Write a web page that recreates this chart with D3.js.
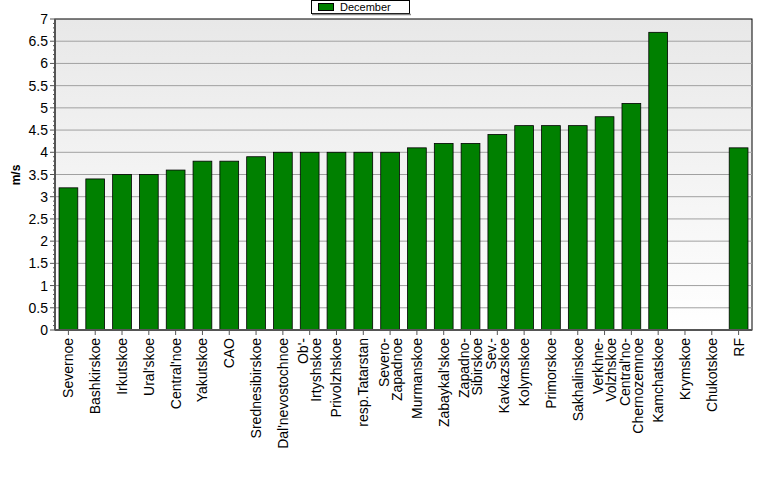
<!DOCTYPE html><html><head><meta charset="utf-8"><script src="https://cdn.jsdelivr.net/npm/d3@7"></script>
<style>body{margin:0;background:#fff}text{font-family:"Liberation Sans",Arial,sans-serif}</style></head><body><svg id="c" width="777" height="479"></svg>
<script>
const categories=[["Severnoe"],["Bashkirskoe"],["Irkutskoe"],["Ural'skoe"],["Central'noe"],["Yakutskoe"],["CAO"],["Srednesibirskoe"],["Dal'nevostochnoe"],["Ob'-","Irtyshskoe"],["Privolzhskoe"],["resp.Tatarstan"],["Severo-","Zapadnoe"],["Murmanskoe"],["Zabaykal'skoe"],["Zapadno-","Sibirskoe"],["Sev.-","Kavkazskoe"],["Kolymskoe"],["Primorskoe"],["Sakhalinskoe"],["Verkhne-","Volzhskoe"],["Central'no-","Chernozemnoe"],["Kamchatskoe"],["Krymskoe"],["Chukotskoe"],["RF"]];
const december=[3.2,3.4,3.5,3.5,3.6,3.8,3.8,3.9,4.0,4.0,4.0,4.0,4.0,4.1,4.2,4.2,4.4,4.6,4.6,4.6,4.8,5.1,6.7,null,null,4.1];
const yTicks=[0,0.5,1,1.5,2,2.5,3,3.5,4,4.5,5,5.5,6,6.5,7];
const svg=d3.select("#c");
const L=55,R=752,T=19,B=330;
const x=d3.scaleBand().domain(d3.range(categories.length)).range([L,R]).paddingInner(0.3).paddingOuter(0.15);
const y=d3.scaleLinear().domain([0,7]).range([B,T]);
const g=svg.append("defs").append("linearGradient").attr("id","bg").attr("x1",0).attr("x2",0).attr("y1",0).attr("y2",1);
g.append("stop").attr("offset","0").attr("stop-color","#e8e8e8");g.append("stop").attr("offset","1").attr("stop-color","#ffffff");
svg.append("rect").attr("x",L).attr("y",T).attr("width",R-L).attr("height",B-T).attr("fill","url(#bg)").attr("stroke","#000");
yTicks.forEach(t=>{if(t>0&&t<7)svg.append("line").attr("x1",L).attr("x2",R).attr("y1",y(t)).attr("y2",y(t)).attr("stroke","#a0a0a0");});
svg.selectAll(".bar").data(december).enter().filter(d=>d!=null).append("rect")
 .attr("x",(d,i)=>0).each(function(d){}).remove();
december.forEach((d,i)=>{if(d==null)return;svg.append("rect").attr("x",x(i)).attr("y",y(d)).attr("width",x.bandwidth()).attr("height",B-y(d)).attr("fill","#008000").attr("stroke","#000").attr("stroke-width",0.8);});
// y axis
svg.append("line").attr("x1",L).attr("x2",L).attr("y1",T).attr("y2",B).attr("stroke","#555").attr("stroke-width",2);
d3.range(0,71).forEach(k=>{svg.append("line").attr("x1",L-(k%5==0?5:2)).attr("x2",L).attr("y1",y(k/10)).attr("y2",y(k/10)).attr("stroke","#555");});
yTicks.forEach(t=>svg.append("text").attr("x",L-7).attr("y",y(t)+5).attr("text-anchor","end").attr("font-size",14).text(t));
svg.append("text").attr("transform","translate(20,175) rotate(-90)").attr("text-anchor","middle").attr("font-size",12).attr("font-weight","bold").text("m/s");
// x axis
svg.append("line").attr("x1",L).attr("x2",R).attr("y1",B).attr("y2",B).attr("stroke","#555").attr("stroke-width",2);
categories.forEach((c,i)=>{const cx=x(i)+x.bandwidth()/2;
 svg.append("line").attr("x1",cx).attr("x2",cx).attr("y1",B).attr("y2",B+5).attr("stroke","#555");
 const n=c.length;
 c.forEach((s,j)=>{const off=(j-(n-1)/2)*13;
  svg.append("text").attr("transform",`translate(${cx+off+5},${B+8}) rotate(-90)`).attr("text-anchor","end").attr("font-size",14).text(s);});
});
// legend
svg.append("rect").attr("x",311.5).attr("y",0.5).attr("width",98).attr("height",13).attr("fill","#fff").attr("stroke","#000");
svg.append("line").attr("x1",312).attr("x2",411).attr("y1",14.5).attr("y2",14.5).attr("stroke","#888").attr("stroke-width",1.5);
svg.append("rect").attr("x",318.5).attr("y",3.5).attr("width",15).attr("height",7).attr("fill","#008000").attr("stroke","#000");
svg.append("text").attr("x",340).attr("y",11).attr("font-size",11).text("December");
</script></body></html>
